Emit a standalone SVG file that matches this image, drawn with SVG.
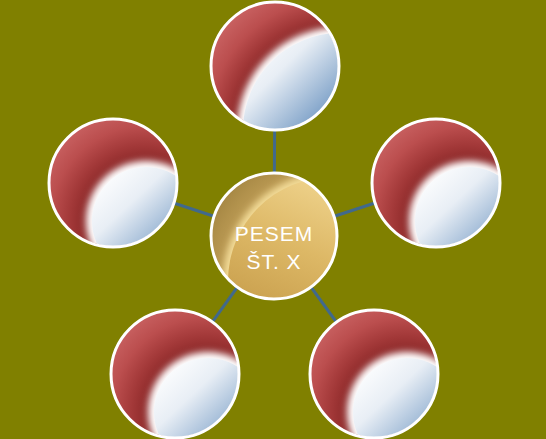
<svg xmlns="http://www.w3.org/2000/svg" width="546" height="439" viewBox="0 0 546 439">
<style>
.conn{stroke:#41698c;stroke-width:3;fill:none}
.ring{fill:none;stroke:#ffffff;stroke-width:3}
.lbl{font-family:"Liberation Sans","DejaVu Sans",sans-serif;font-size:21px;fill:#ffffff;text-anchor:middle;letter-spacing:1px}
</style>
<defs>
<clipPath id="oc"><circle r="63"/></clipPath>
<filter id="blur" x="-30%" y="-30%" width="160%" height="160%"><feGaussianBlur stdDeviation="3.5"/></filter>
<radialGradient id="red" gradientUnits="userSpaceOnUse" cx="33" cy="38" r="140">
<stop offset="0" stop-color="#8a2828"/>
<stop offset="0.44" stop-color="#8e2a2a"/>
<stop offset="0.54" stop-color="#a23838"/>
<stop offset="0.68" stop-color="#bb4e4e"/>
<stop offset="0.84" stop-color="#c96262"/>
<stop offset="1" stop-color="#dc9a9a"/>
</radialGradient>
<linearGradient id="blue" gradientUnits="userSpaceOnUse" x1="-10" y1="-10" x2="70" y2="75">
<stop offset="0" stop-color="#ffffff"/>
<stop offset="0.35" stop-color="#e8eef5"/>
<stop offset="1" stop-color="#5f8bbb"/>
</linearGradient>
<radialGradient id="redTop" gradientUnits="userSpaceOnUse" cx="65" cy="64" r="175">
<stop offset="0" stop-color="#8a2828"/>
<stop offset="0.59" stop-color="#8e2a2a"/>
<stop offset="0.66" stop-color="#a23838"/>
<stop offset="0.76" stop-color="#bb4e4e"/>
<stop offset="0.89" stop-color="#c96262"/>
<stop offset="1" stop-color="#dc9a9a"/>
</radialGradient>
<linearGradient id="blueTop" gradientUnits="userSpaceOnUse" x1="-25" y1="-25" x2="60" y2="60">
<stop offset="0" stop-color="#ffffff"/>
<stop offset="0.35" stop-color="#e8eef5"/>
<stop offset="1" stop-color="#5f8bbb"/>
</linearGradient>
<radialGradient id="gold" gradientUnits="userSpaceOnUse" cx="58" cy="45" r="190">
<stop offset="0" stop-color="#c0a058"/>
<stop offset="0.57" stop-color="#bd9c55"/>
<stop offset="0.7" stop-color="#a98a46"/>
<stop offset="1" stop-color="#927234"/>
</radialGradient>
<linearGradient id="goldIn" gradientUnits="userSpaceOnUse" x1="20" y1="-60" x2="-30" y2="60">
<stop offset="0" stop-color="#edd088"/>
<stop offset="0.5" stop-color="#ddb866"/>
<stop offset="1" stop-color="#cba250"/>
</linearGradient>
</defs>
<rect width="546" height="439" fill="#808000"/>
<g id="connectors">
<line class="conn" x1="274" y1="236" x2="275" y2="66"/>
<line class="conn" x1="274" y1="236" x2="113" y2="183"/>
<line class="conn" x1="274" y1="236" x2="436" y2="183"/>
<line class="conn" x1="274" y1="236" x2="175" y2="374"/>
<line class="conn" x1="274" y1="236" x2="374" y2="374"/>
</g>
<g id="n-top" transform="translate(275,66)">
<circle r="64" fill="url(#redTop)"/>
<g clip-path="url(#oc)">
<circle cx="65" cy="64" r="103" fill="#ffffff" filter="url(#blur)"/>
<circle cx="65" cy="64" r="97" fill="url(#blueTop)"/>
</g>
<circle r="64" class="ring"/>
</g>
<g id="n-left" transform="translate(113,183)">
<circle r="64" fill="url(#red)"/>
<g clip-path="url(#oc)">
<circle cx="33" cy="38" r="60" fill="#ffffff" filter="url(#blur)"/>
<circle cx="33" cy="38" r="54" fill="url(#blue)"/>
</g>
<circle r="64" class="ring"/>
</g>
<g id="n-right" transform="translate(436,183)">
<circle r="64" fill="url(#red)"/>
<g clip-path="url(#oc)">
<circle cx="33" cy="38" r="60" fill="#ffffff" filter="url(#blur)"/>
<circle cx="33" cy="38" r="54" fill="url(#blue)"/>
</g>
<circle r="64" class="ring"/>
</g>
<g id="n-bottom-left" transform="translate(175,374)">
<circle r="64" fill="url(#red)"/>
<g clip-path="url(#oc)">
<circle cx="33" cy="38" r="60" fill="#ffffff" filter="url(#blur)"/>
<circle cx="33" cy="38" r="54" fill="url(#blue)"/>
</g>
<circle r="64" class="ring"/>
</g>
<g id="n-bottom-right" transform="translate(374,374)">
<circle r="64" fill="url(#red)"/>
<g clip-path="url(#oc)">
<circle cx="33" cy="38" r="60" fill="#ffffff" filter="url(#blur)"/>
<circle cx="33" cy="38" r="54" fill="url(#blue)"/>
</g>
<circle r="64" class="ring"/>
</g>
<g id="n-center" transform="translate(274,236)">
<circle r="63" fill="url(#gold)"/>
<g clip-path="url(#oc)">
<circle cx="58" cy="45" r="109" fill="#f3dc98" filter="url(#blur)"/>
<circle cx="58" cy="45" r="104" fill="url(#goldIn)"/>
</g>
<circle r="63" class="ring"/>
<text class="lbl" x="0" y="5">PESEM</text>
<text class="lbl" x="0" y="33">ŠT. X</text>
</g>
</svg>
